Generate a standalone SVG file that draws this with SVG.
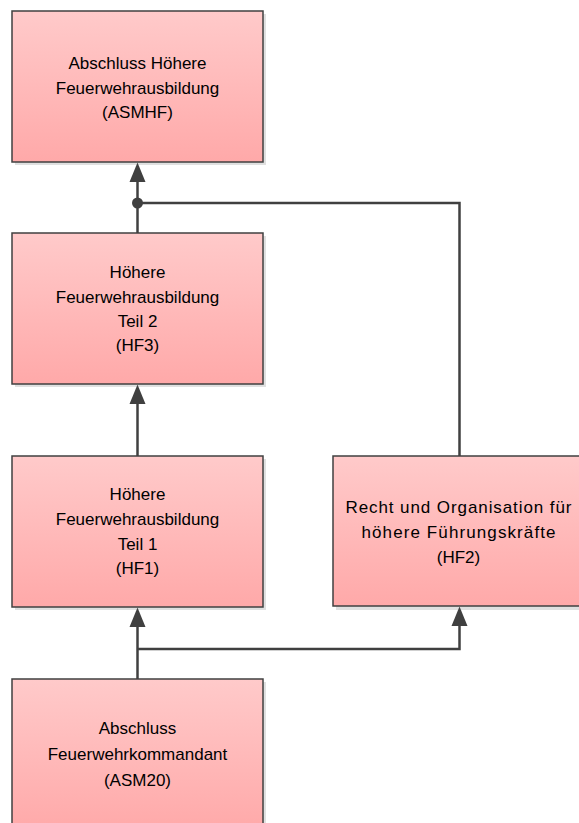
<svg xmlns="http://www.w3.org/2000/svg" width="579" height="823" viewBox="0 0 579 823">
<style>
.box{fill:url(#g);stroke:#404040;stroke-width:1.5}
.sh{fill:#000;opacity:0.12}
.t{font-family:"Liberation Sans",Arial,sans-serif;font-size:17px;fill:#000;text-anchor:middle}
.c{fill:none;stroke:#404040;stroke-width:2.5}
</style>
<defs>
<linearGradient id="g" x1="0" y1="0" x2="0" y2="1">
<stop offset="0" stop-color="#ffcaca"/>
<stop offset="1" stop-color="#ffa9a9"/>
</linearGradient>
</defs>
<g id="ASMHF">
<rect class="sh" x="15" y="14" width="251" height="151"/>
<rect class="box" x="12" y="11" width="251" height="151"/>
<text class="t" x="137.5" y="69">Abschluss Höhere</text>
<text class="t" x="137.5" y="94">Feuerwehrausbildung</text>
<text class="t" x="137.5" y="118">(ASMHF)</text>
</g>
<g id="HF3">
<rect class="sh" x="15" y="236" width="251" height="151"/>
<rect class="box" x="12" y="233" width="251" height="151"/>
<text class="t" x="137.5" y="278">Höhere</text>
<text class="t" x="137.5" y="303">Feuerwehrausbildung</text>
<text class="t" x="137.5" y="327">Teil 2</text>
<text class="t" x="137.5" y="351">(HF3)</text>
</g>
<g id="HF1">
<rect class="sh" x="15" y="459" width="251" height="151"/>
<rect class="box" x="12" y="456" width="251" height="151"/>
<text class="t" x="137.5" y="500">Höhere</text>
<text class="t" x="137.5" y="525">Feuerwehrausbildung</text>
<text class="t" x="137.5" y="550">Teil 1</text>
<text class="t" x="137.5" y="574">(HF1)</text>
</g>
<g id="HF2">
<rect class="sh" x="336" y="459" width="251" height="151"/>
<rect class="box" x="333" y="456" width="251" height="150"/>
<text class="t" x="458.5" y="513" textLength="226" lengthAdjust="spacing">Recht und Organisation für</text>
<text class="t" x="458.5" y="538" textLength="194" lengthAdjust="spacing">höhere Führungskräfte</text>
<text class="t" x="458.5" y="563">(HF2)</text>
</g>
<g id="ASM20">
<rect class="sh" x="15" y="682" width="251" height="151"/>
<rect class="box" x="12" y="679" width="251" height="151"/>
<text class="t" x="137.5" y="734">Abschluss</text>
<text class="t" x="137.5" y="760">Feuerwehrkommandant</text>
<text class="t" x="137.5" y="786">(ASM20)</text>
</g>
<g id="connectors">
<path class="c" d="M137.5 233 V180"/>
<path class="c" d="M137.5 203 H459.5 V456"/>
<circle cx="137.5" cy="203" r="5.5" fill="#404040"/>
<polygon points="137.5,162.5 129.5,182 145.5,182" fill="#404040"/>
<path class="c" d="M137.5 456 V402"/>
<polygon points="137.5,384.5 129.5,404 145.5,404" fill="#404040"/>
<path class="c" d="M137.5 679 V625"/>
<path class="c" d="M137.5 649 H459.5 V625"/>
<polygon points="137.5,607.5 129.5,627 145.5,627" fill="#404040"/>
<polygon points="459.5,606.5 451.5,626 467.5,626" fill="#404040"/>
</g>
</svg>
